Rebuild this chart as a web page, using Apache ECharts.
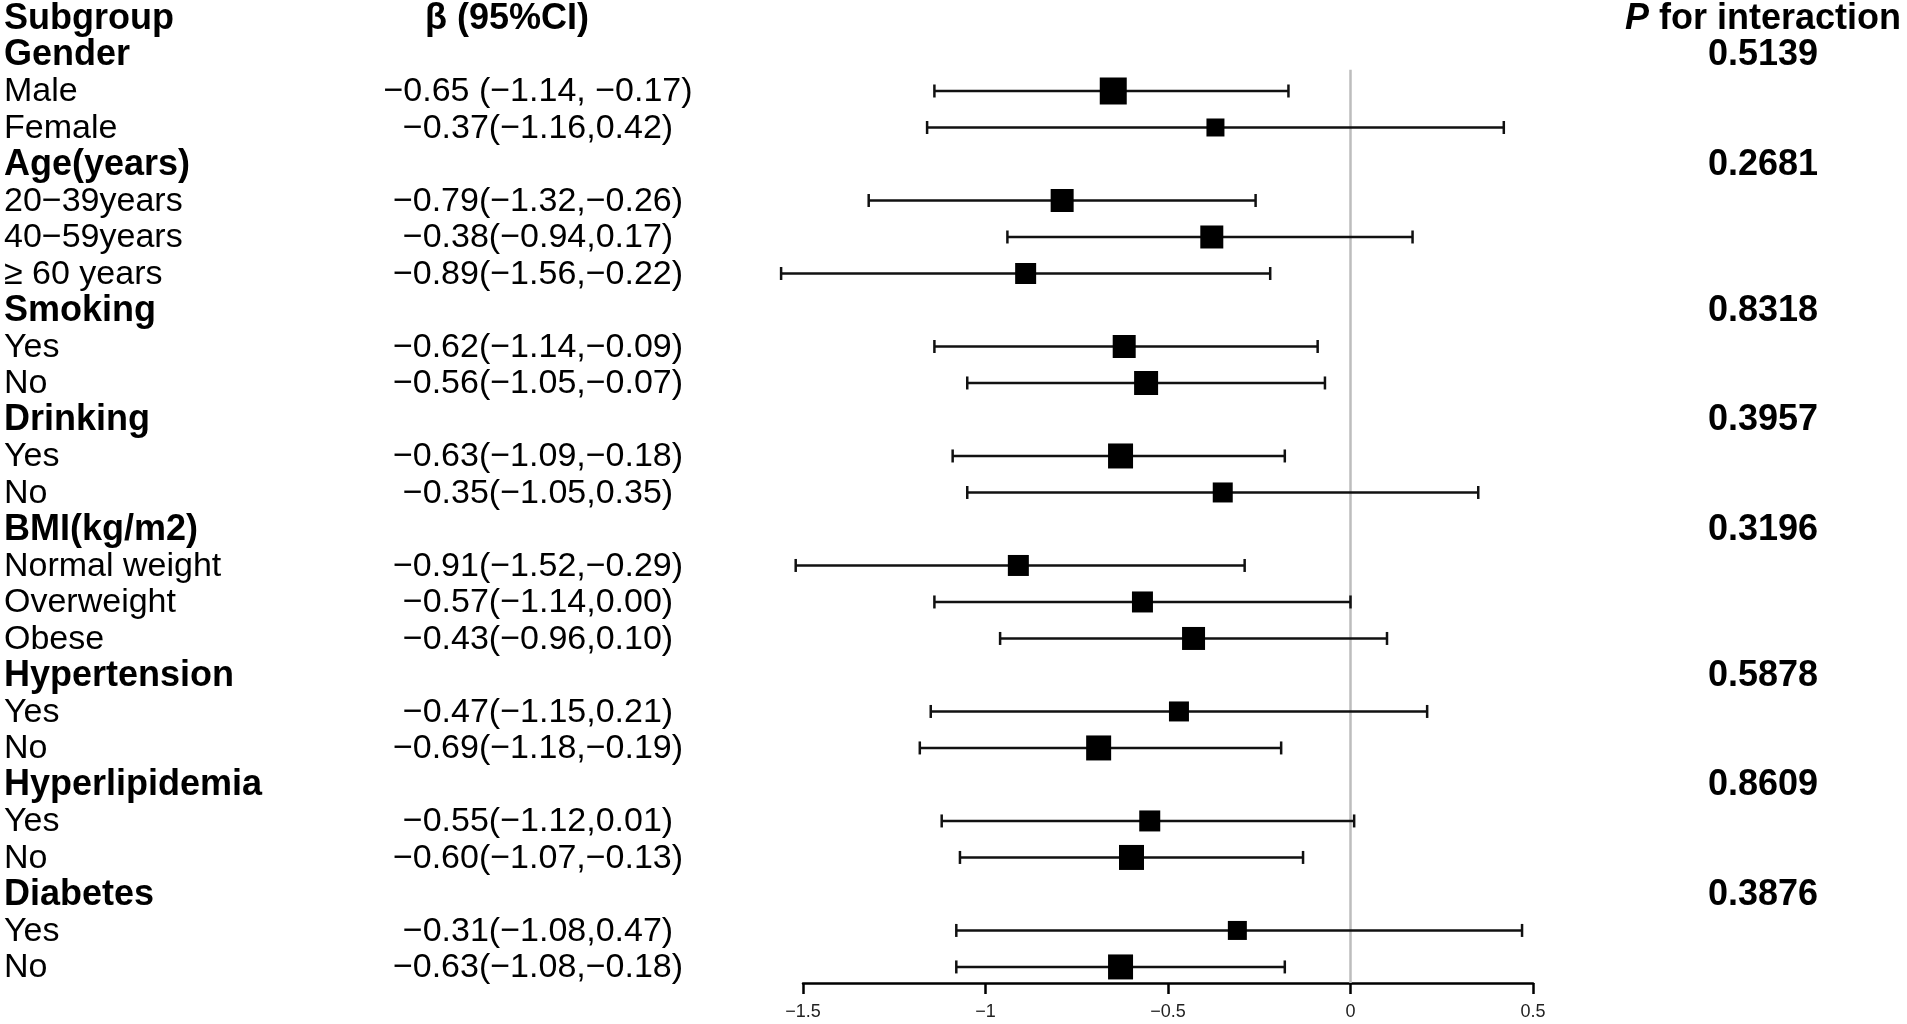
<!DOCTYPE html>
<html>
<head>
<meta charset="utf-8">
<title>Subgroup forest plot</title>
<script src="https://cdn.jsdelivr.net/npm/echarts/dist/echarts.min.js"></script>
<style>
  html, body { margin: 0; padding: 0; background: #fff; }
  #main { width: 1907px; height: 1024px; }
</style>
</head>
<body>
<div id="main"></div>
<script>
// rows (top to bottom), header rows are the subgroup titles
var subgroups = ['Gender', 'Male', 'Female',
  'Age(years)', '20\u221239years', '40\u221259years', '\u2265 60 years',
  'Smoking', 'Yes', 'No',
  'Drinking', 'Yes', 'No',
  'BMI(kg/m2)', 'Normal weight', 'Overweight', 'Obese',
  'Hypertension', 'Yes', 'No',
  'Hyperlipidemia', 'Yes', 'No',
  'Diabetes', 'Yes', 'No'];
var isHeader = [1, 0, 0, 1, 0, 0, 0, 1, 0, 0, 1, 0, 0, 1, 0, 0, 0, 1, 0, 0, 1, 0, 0, 1, 0, 0];
var ciLabels = ['', '\u22120.65 (\u22121.14, \u22120.17)', '\u22120.37(\u22121.16,0.42)',
  '', '\u22120.79(\u22121.32,\u22120.26)', '\u22120.38(\u22120.94,0.17)', '\u22120.89(\u22121.56,\u22120.22)',
  '', '\u22120.62(\u22121.14,\u22120.09)', '\u22120.56(\u22121.05,\u22120.07)',
  '', '\u22120.63(\u22121.09,\u22120.18)', '\u22120.35(\u22121.05,0.35)',
  '', '\u22120.91(\u22121.52,\u22120.29)', '\u22120.57(\u22121.14,0.00)', '\u22120.43(\u22120.96,0.10)',
  '', '\u22120.47(\u22121.15,0.21)', '\u22120.69(\u22121.18,\u22120.19)',
  '', '\u22120.55(\u22121.12,0.01)', '\u22120.60(\u22121.07,\u22120.13)',
  '', '\u22120.31(\u22121.08,0.47)', '\u22120.63(\u22121.08,\u22120.18)'];
var estimates = [null, -0.65, -0.37, null, -0.79, -0.38, -0.89, null, -0.62, -0.56, null, -0.63, -0.35,
  null, -0.91, -0.57, -0.43, null, -0.47, -0.69, null, -0.55, -0.60, null, -0.31, -0.63];
var lower = [null, -1.14, -1.16, null, -1.32, -0.94, -1.56, null, -1.14, -1.05, null, -1.09, -1.05,
  null, -1.52, -1.14, -0.96, null, -1.15, -1.18, null, -1.12, -1.07, null, -1.08, -1.08];
var upper = [null, -0.17, 0.42, null, -0.26, 0.17, -0.22, null, -0.09, -0.07, null, -0.18, 0.35,
  null, -0.29, 0.00, 0.10, null, 0.21, -0.19, null, 0.01, -0.13, null, 0.47, -0.18];
// box size (weight) in px as drawn
var boxSizes = [0, 27, 18, 0, 23, 23, 21, 0, 23, 24, 0, 25, 20, 0, 21, 21, 23, 0, 20, 25, 0, 21, 25, 0, 19, 25];
var pValues = ['0.5139', '', '', '0.2681', '', '', '', '0.8318', '', '', '0.3957', '', '',
  '0.3196', '', '', '', '0.5878', '', '', '0.8609', '', '', '0.3876', '', ''];
var xMin = -1.5, xMax = 0.5, xStep = 0.5;

var FONT = '"Liberation Sans", Arial, sans-serif';
var lastRow = subgroups.length;           // 26
var axisRow = lastRow + 0.44;

var forestData = [];
var textData = [[xMin, 0]];
for (var i = 0; i < subgroups.length; i++) {
  textData.push([xMin, i + 1]);
  if (!isHeader[i]) {
    forestData.push([estimates[i], i + 1, lower[i], upper[i], boxSizes[i]]);
  }
}

function renderForest(params, api) {
  var row = api.value(1);
  var c = api.coord([api.value(0), row]);
  var l = api.coord([api.value(2), row]);
  var h = api.coord([api.value(3), row]);
  var s = api.value(4);
  var cap = 6.5;
  var ls = { stroke: '#111', lineWidth: 2.5 };
  return {
    type: 'group',
    children: [
      { type: 'line', shape: { x1: l[0], y1: c[1], x2: h[0], y2: c[1] }, style: ls },
      { type: 'line', shape: { x1: l[0], y1: c[1] - cap, x2: l[0], y2: c[1] + cap }, style: ls },
      { type: 'line', shape: { x1: h[0], y1: c[1] - cap, x2: h[0], y2: c[1] + cap }, style: ls },
      { type: 'rect', shape: { x: c[0] - s / 2, y: c[1] - s / 2, width: s, height: s }, style: { fill: '#000' } }
    ]
  };
}

function renderText(params, api) {
  var row = api.value(1);
  var y = api.coord([xMin, row])[1] + 1;
  var kids = [];
  if (row === 0) {
    kids.push({ type: 'text', x: 4, y: y, style: { text: 'Subgroup', font: 'bold 36px ' + FONT, fill: '#000', textAlign: 'left', textVerticalAlign: 'middle' } });
    kids.push({ type: 'text', x: 507, y: y, style: { text: '\u03b2 (95%CI)', font: 'bold 36px ' + FONT, fill: '#000', textAlign: 'center', textVerticalAlign: 'middle' } });
    kids.push({ type: 'text', x: 1763, y: y, style: {
      text: '{i|P} for interaction', font: 'bold 36px ' + FONT, fill: '#000', textAlign: 'center', textVerticalAlign: 'middle',
      rich: { i: { fontStyle: 'italic', fontWeight: 'bold', fontSize: 36, fontFamily: FONT } }
    } });
    return { type: 'group', children: kids };
  }
  var i = row - 1;
  var hdr = isHeader[i];
  kids.push({ type: 'text', x: 4, y: y, style: {
    text: subgroups[i], font: (hdr ? 'bold 36px ' : '34px ') + FONT, fill: '#000', textAlign: 'left', textVerticalAlign: 'middle' } });
  if (ciLabels[i]) {
    kids.push({ type: 'text', x: 538, y: y, style: { text: ciLabels[i], font: '34px ' + FONT, fill: '#000', textAlign: 'center', textVerticalAlign: 'middle' } });
  }
  if (pValues[i]) {
    kids.push({ type: 'text', x: 1763, y: y, style: { text: pValues[i], font: 'bold 36px ' + FONT, fill: '#000', textAlign: 'center', textVerticalAlign: 'middle' } });
  }
  return { type: 'group', children: kids };
}

var myChart = echarts.init(document.getElementById('main'));
var option = {
  backgroundColor: '#fff',
  animation: false,
  grid: { left: 803, right: 374, top: 18, bottom: 41 },
  xAxis: {
    type: 'value',
    position: 'bottom',
    min: xMin,
    max: xMax,
    interval: xStep,
    splitLine: { show: false },
    axisLine: { onZero: false, lineStyle: { color: '#000', width: 2.5 } },
    axisTick: { length: 11, lineStyle: { color: '#000', width: 2.5 } },
    axisLabel: {
      margin: 20,
      fontSize: 18,
      color: '#222',
      fontFamily: '"Liberation Sans Narrow", "Liberation Sans", Arial, sans-serif',
      formatter: function (v) { return String(v).replace('-', '\u2212'); }
    }
  },
  yAxis: { type: 'value', inverse: true, min: 0, max: axisRow, show: false },
  series: [
    {
      // reference line at zero
      type: 'line',
      data: [[0, 1.42], [0, axisRow]],
      symbol: 'none',
      silent: true,
      z: 1,
      lineStyle: { color: '#bdbdbd', width: 2.5 }
    },
    {
      type: 'custom',
      renderItem: renderForest,
      data: forestData,
      clip: false,
      z: 3
    },
    {
      type: 'custom',
      renderItem: renderText,
      data: textData,
      clip: false,
      z: 3
    }
  ]
};
myChart.setOption(option, true);
</script>
</body>
</html>
